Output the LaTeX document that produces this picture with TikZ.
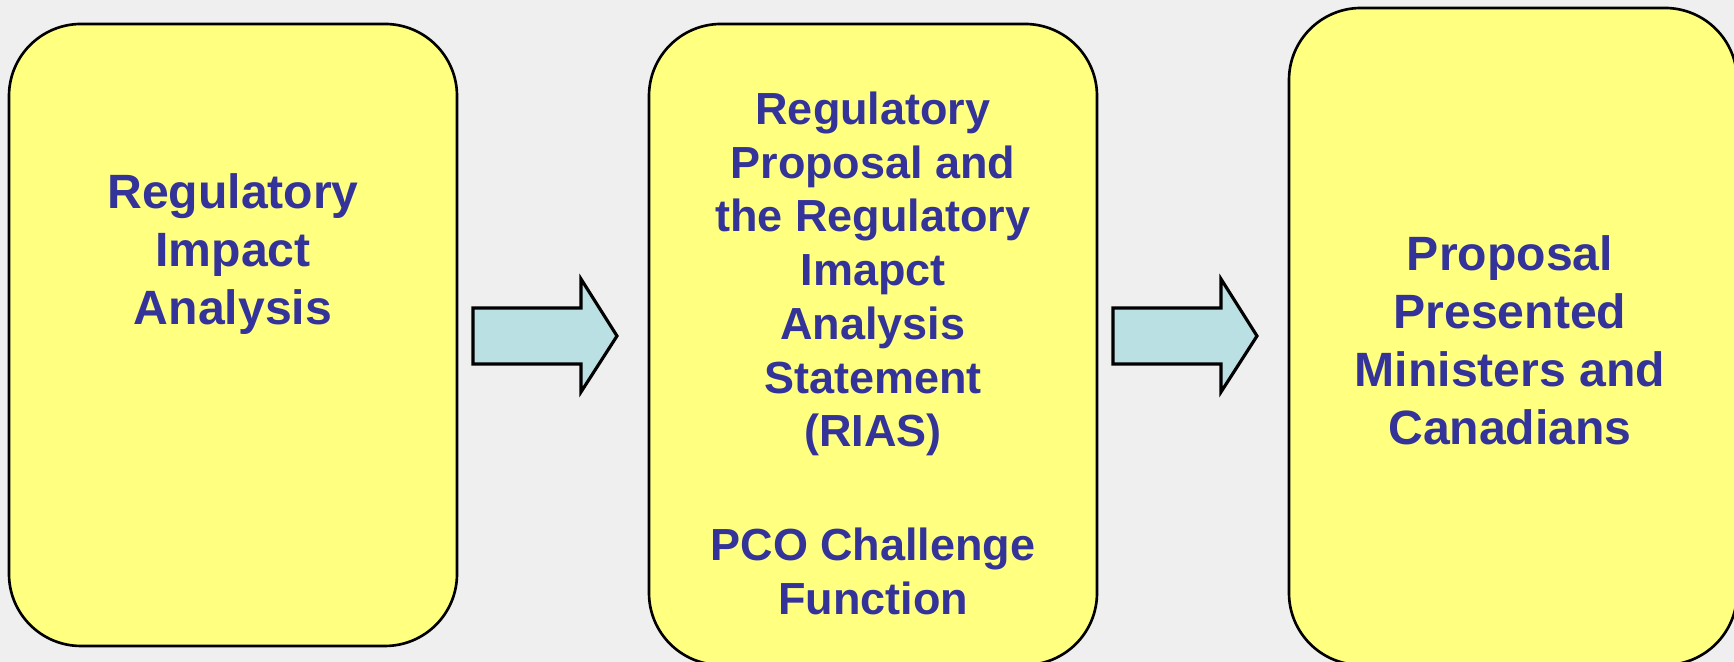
\documentclass[tikz,border=0pt]{standalone}
\usepackage{fontspec}
\setmainfont{Liberation Sans}
\usepackage{tikz}
\usetikzlibrary{positioning}
\definecolor{stepyellow}{HTML}{FFFF80}
\definecolor{arrowcyan}{HTML}{BBE0E3}
\definecolor{labelblue}{HTML}{333399}
\definecolor{slidegray}{HTML}{EFEFEF}

\begin{document}
\begin{tikzpicture}[every node/.style={text=labelblue, align=center, inner sep=0pt, anchor=north}]
% Slide background
\fill[slidegray] (0,0) rectangle (17.34,6.62);
\useasboundingbox (0,0) rectangle (17.34,6.62);
\clip (0,0) rectangle (17.34,6.62);

% Step 1 - analysis
\draw[fill=stepyellow, rounded corners=0.72cm, line width=0.75pt] (0.09,0.16) rectangle (4.57,6.38);
\node[font=\fontsize{13.7}{16.5}\selectfont\bfseries] (impact) at (2.33,4.89) {Regulatory\\Impact\\Analysis};

% Step 2 - proposal and RIAS
\draw[fill=stepyellow, rounded corners=0.72cm, line width=0.75pt] (6.49,-0.03) rectangle (10.97,6.38);
\node[font=\fontsize{12.8}{15.3}\selectfont\bfseries] (rias) at (8.73,5.71) {Regulatory\\Proposal and\\the Regulatory\\Imapct\\Analysis\\Statement\\(RIAS)\\[17pt]PCO Challenge\\Function};

% Step 3 - presented
\draw[fill=stepyellow, rounded corners=0.72cm, line width=0.75pt] (12.89,-0.03) rectangle (17.37,6.54);
\node[font=\fontsize{13.7}{16.5}\selectfont\bfseries] (present) at (15.10,4.27) {Proposal\\Presented\\Ministers and\\Canadians};

% Block arrows between the steps
\foreach \x in {4.73, 11.13} {
    \draw[fill=arrowcyan, line width=0.9pt] (\x,2.98) -- ++(1.08,0) -- ++(0,-0.28) -- ++(0.36,0.56) -- ++(-0.36,0.57) -- ++(0,-0.29) -- ++(-1.08,0) -- cycle;
}

\end{tikzpicture}
\end{document}
